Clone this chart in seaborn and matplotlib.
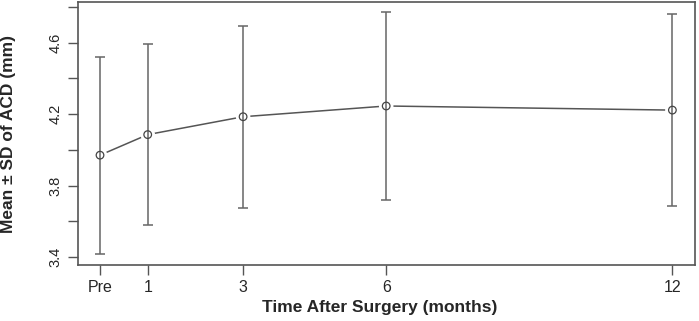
import numpy as np
import pandas as pd
import seaborn as sns
import matplotlib.pyplot as plt

# Values
months = [0, 1, 3, 6, 12]
tick_labels = ['Pre', '1', '3', '6', '12']
mean_acd = [3.97, 4.085, 4.185, 4.245, 4.222]
sd_acd = [0.55, 0.505, 0.51, 0.525, 0.535]

df = pd.DataFrame({'month': months, 'acd': mean_acd, 'sd': sd_acd})

sns.set_style('white')
plt.rcParams['font.family'] = ['Liberation Sans', 'DejaVu Sans']

fig = plt.figure(figsize=(6.99, 3.21), dpi=100)
ax = fig.add_axes([0.111, 0.1745, 0.883, 0.819])

# connecting line with gaps around the points (R type="b" look)
sns.lineplot(data=df, x='month', y='acd', color='#555555', lw=1.1, ax=ax, zorder=1)
sns.scatterplot(data=df, x='month', y='acd', s=110, color='white', edgecolor='none',
                ax=ax, zorder=2)

ax.errorbar(df['month'], df['acd'], yerr=df['sd'], fmt='none', ecolor='#666666',
            elinewidth=1.1, capsize=3.8, capthick=1.1, zorder=3)

sns.scatterplot(data=df, x='month', y='acd', s=30, facecolor='none', edgecolor='#444444',
                linewidth=0.9, marker='o', ax=ax, zorder=4)

ax.set_xlim(-0.47, 12.47)
ax.set_ylim(3.356, 4.826)

ax.set_xticks(months)
ax.set_xticklabels(tick_labels, fontsize=11.5)
yt = np.round(np.arange(3.4, 4.81, 0.2), 1)
ax.set_yticks(yt)
ax.set_yticklabels([f'{v:.1f}' if i % 2 == 0 else '' for i, v in enumerate(yt)],
                   fontsize=10.5, rotation=90, va='center')

ax.tick_params(axis='both', direction='out', length=7, width=1, color='#555555',
               left=True, bottom=True, pad=4)

for s in ax.spines.values():
    s.set_color('#555555')
    s.set_linewidth(1.2)

ax.set_xlabel('Time After Surgery (months)', fontsize=12.5, fontweight='bold')
ax.set_ylabel('Mean \u00b1 SD of ACD (mm)', fontsize=12.5, fontweight='bold')
ax.xaxis.set_label_coords(0.49, -0.135)
ax.yaxis.set_label_coords(-0.1, 0.5)

fig.savefig('out.png', dpi=100)
